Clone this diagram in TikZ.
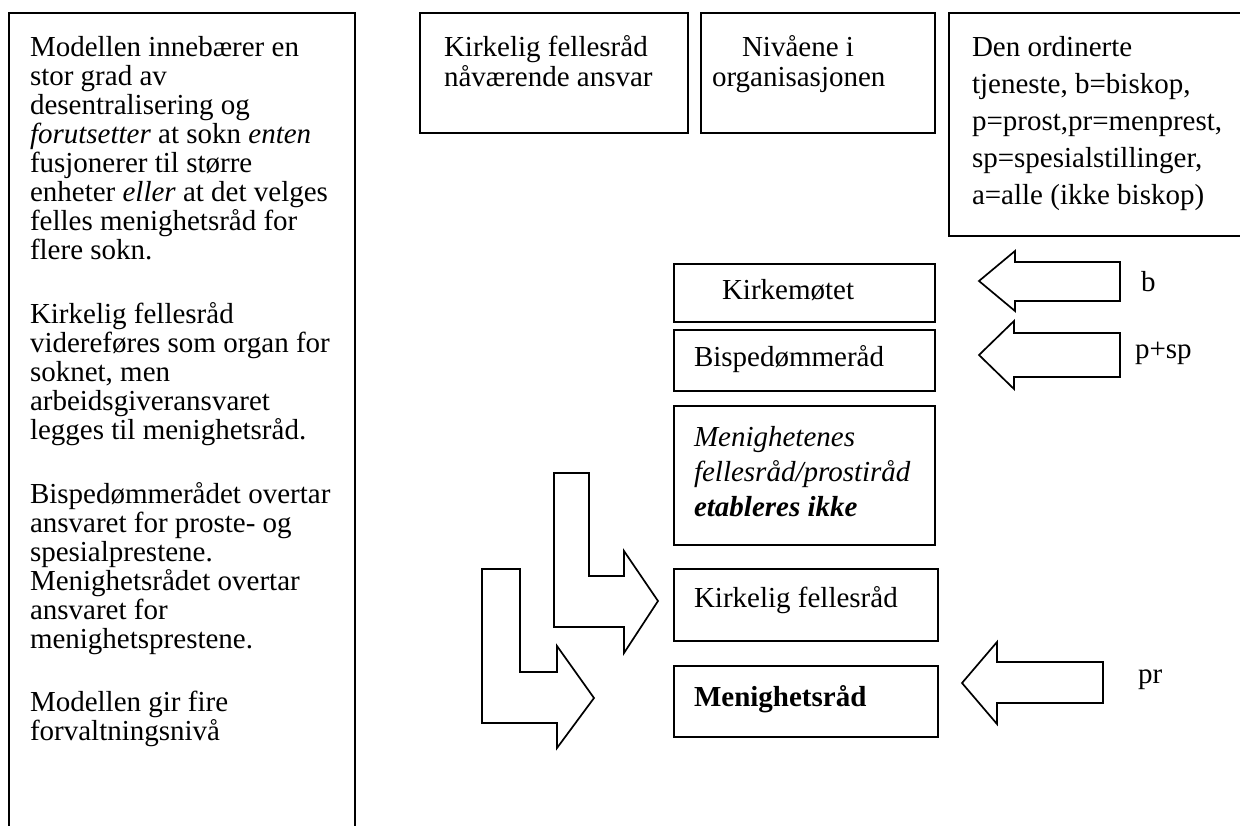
\documentclass[tikz,border=0pt]{standalone}
\usepackage{fontspec}
\setmainfont{Liberation Serif}
\begin{document}
\begin{tikzpicture}[x=1pt,y=-1pt,
  every node/.style={inner sep=0pt,outer sep=0pt},
  frame/.style={draw=black,line width=1.7pt},
  bigarrow/.style={draw=black,line width=1.7pt,line join=miter},
  txt/.style={anchor=base west,align=left,font=\fontsize{29}{29.1}\selectfont},
  lbl/.style={anchor=base west,font=\fontsize{29}{29}\selectfont}]
\useasboundingbox (0,0) rectangle (1240,825);
% left box (open at bottom); nodes anchored at the baseline of their last line
\draw[frame] (9,830) -- (9,13) -- (355,13) -- (355,830);
\node[txt] (p1) at (30,259.7) {Modellen innebærer en\\stor grad av\\desentralisering og\\\textit{forutsetter} at sokn \textit{enten}\\fusjonerer til større\\enheter \textit{eller} at det velges\\felles menighetsråd for\\flere sokn.};
\node[txt] (p2) at (30,439.4) {Kirkelig fellesråd\\videreføres som organ for\\soknet, men\\arbeidsgiveransvaret\\legges til menighetsråd.};
\node[txt] (p3) at (30,648.5) {Bispedømmerådet overtar\\ansvaret for proste- og\\spesialprestene.\\Menighetsrådet overtar\\ansvaret for\\menighetsprestene.};
\node[txt] (p4) at (30,740.1) {Modellen gir fire\\forvaltningsnivå};
% top boxes
\draw[frame] (420,13) rectangle (688,133);
\node[txt,font=\fontsize{29}{30}\selectfont] (t1) at (444,86) {Kirkelig fellesråd\\nåværende ansvar};
\draw[frame] (701,13) rectangle (935,133);
\node[txt,font=\fontsize{29}{30}\selectfont] (t2) at (712,86) {\hspace*{30pt}Nivåene i\\organisasjonen};
\draw[frame] (1250,236) -- (949,236) -- (949,13) -- (1250,13);
\node[txt,font=\fontsize{29}{37}\selectfont] (t3) at (972,204) {Den ordinerte\\tjeneste, b=biskop,\\p=prost,pr=menprest,\\sp=spesialstillinger,\\a=alle (ikke biskop)};
% level boxes
\node[frame,anchor=north west,minimum width=261pt,minimum height=58pt] (km) at (674,264) {};
\node[txt] (kmt) at (722,299) {Kirkemøtet};
\node[frame,anchor=north west,minimum width=261pt,minimum height=61pt] (bd) at (674,330) {};
\node[txt] (bdt) at (694,366) {Bispedømmeråd};
\node[frame,anchor=north west,minimum width=261pt,minimum height=139pt] (mf) at (674,406) {};
\node[txt,font=\fontsize{29}{35}\selectfont] (mft) at (694,516) {\textit{Menighetenes}\\\textit{fellesråd/prostiråd}\\\textbf{\textit{etableres ikke}}};
\node[frame,anchor=north west,minimum width=264pt,minimum height=72pt] (kf) at (674,569) {};
\node[txt] (kft) at (694,607) {Kirkelig fellesråd};
\node[frame,anchor=north west,minimum width=264pt,minimum height=71pt] (mr) at (674,666) {};
\node[txt] (mrt) at (694,706) {\textbf{Menighetsråd}};
% bent arrows
\draw[bigarrow] (554,473) -- (589,473) -- (589,576) -- (624,576) -- (624,551) -- (658,601) -- (624,653) -- (624,627) -- (554,627) -- cycle;
\draw[bigarrow] (482,569) -- (520,569) -- (520,672) -- (557,672) -- (557,646) -- (594,698) -- (557,748) -- (557,723) -- (482,723) -- cycle;
% left-pointing arrows
\draw[bigarrow] (979,281) -- (1015,251) -- (1015,262) -- (1120,262) -- (1120,301) -- (1015,301) -- (1015,311) -- cycle;
\draw[bigarrow] (979,355) -- (1014,321) -- (1014,333) -- (1120,333) -- (1120,377) -- (1014,377) -- (1014,389) -- cycle;
\draw[bigarrow] (962,683) -- (997,642) -- (997,662) -- (1103,662) -- (1103,703) -- (997,703) -- (997,724) -- cycle;
\node[lbl] (lb) at (1141,291) {b};
\node[lbl] (lp) at (1135,358) {p+sp};
\node[lbl] (lr) at (1138,683) {pr};
\end{tikzpicture}
\end{document}
